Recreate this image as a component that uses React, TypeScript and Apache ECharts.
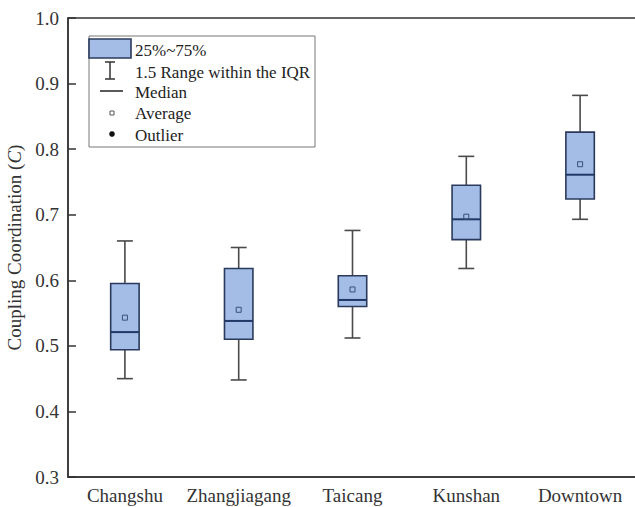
import React, { useEffect, useRef } from "react";
import * as echarts from "echarts";

const categories = ["Changshu", "Zhangjiagang", "Taicang", "Kunshan", "Downtown"];
const lowWhisker = [0.45, 0.448, 0.512, 0.618, 0.693];
const q1 = [0.494, 0.51, 0.56, 0.662, 0.724];
const median = [0.521, 0.538, 0.57, 0.693, 0.761];
const q3 = [0.595, 0.618, 0.607, 0.745, 0.826];
const highWhisker = [0.66, 0.65, 0.676, 0.789, 0.882];
const mean = [0.543, 0.555, 0.586, 0.697, 0.777];

const legendLabels = ["25%~75%", "1.5 Range within the IQR", "Median", "Average", "Outlier"];

const FONT = "Liberation Serif";
const BOX_FILL = "#a3bde6";
const BOX_STROKE = "#2b3a5c";
const MEDIAN_COLOR = "#1f3866";
const WHISKER = "#4a4a4a";

export default function App() {
  const ref = useRef<HTMLDivElement>(null);
  useEffect(() => {
    if (!ref.current) return;
    const chart = echarts.init(ref.current, null, { renderer: "svg" });
    const data = categories.map((_, i) => [i, lowWhisker[i], q1[i], median[i], q3[i], highWhisker[i], mean[i]]);

    const renderItem = (params: any, api: any) => {
      const idx = api.value(0);
      const band = api.size([1, 0])[0];
      const boxW = band * 0.25;
      const capW = band * 0.14;
      const pLow = api.coord([idx, api.value(1)]);
      const pQ1 = api.coord([idx, api.value(2)]);
      const pMed = api.coord([idx, api.value(3)]);
      const pQ3 = api.coord([idx, api.value(4)]);
      const pHigh = api.coord([idx, api.value(5)]);
      const pMean = api.coord([idx, api.value(6)]);
      const cx = pQ1[0];
      const lineStyle = { stroke: WHISKER, lineWidth: 1.6 };
      return {
        type: "group",
        children: [
          { type: "line", shape: { x1: cx, y1: pHigh[1], x2: cx, y2: pQ3[1] }, style: lineStyle },
          { type: "line", shape: { x1: cx, y1: pQ1[1], x2: cx, y2: pLow[1] }, style: lineStyle },
          { type: "line", shape: { x1: cx - capW / 2, y1: pHigh[1], x2: cx + capW / 2, y2: pHigh[1] }, style: lineStyle },
          { type: "line", shape: { x1: cx - capW / 2, y1: pLow[1], x2: cx + capW / 2, y2: pLow[1] }, style: lineStyle },
          {
            type: "rect",
            shape: { x: cx - boxW / 2, y: pQ3[1], width: boxW, height: pQ1[1] - pQ3[1] },
            style: { fill: BOX_FILL, stroke: BOX_STROKE, lineWidth: 1.6 },
          },
          {
            type: "line",
            shape: { x1: cx - boxW / 2, y1: pMed[1], x2: cx + boxW / 2, y2: pMed[1] },
            style: { stroke: MEDIAN_COLOR, lineWidth: 2 },
          },
          {
            type: "rect",
            shape: { x: cx - 2.5, y: pMean[1] - 2.5, width: 5, height: 5 },
            style: { fill: "none", stroke: "#3a4f7a", lineWidth: 1 },
          },
        ],
      };
    };

    const lx = 89;
    const rowY = [50, 72, 92, 113, 135];
    const legendGraphics: any[] = [
      { type: "rect", shape: { x: 89, y: 36, width: 226, height: 111 }, style: { fill: "#fff", stroke: "#777", lineWidth: 1 }, z: 10 },
      { type: "rect", shape: { x: lx, y: 39, width: 42, height: 19 }, style: { fill: BOX_FILL, stroke: BOX_STROKE, lineWidth: 1.6 }, z: 11 },
      { type: "line", shape: { x1: 110, y1: 62, x2: 110, y2: 79 }, style: { stroke: "#333", lineWidth: 1.5 }, z: 11 },
      { type: "line", shape: { x1: 105, y1: 62, x2: 115, y2: 62 }, style: { stroke: "#333", lineWidth: 1.5 }, z: 11 },
      { type: "line", shape: { x1: 105, y1: 79, x2: 115, y2: 79 }, style: { stroke: "#333", lineWidth: 1.5 }, z: 11 },
      { type: "line", shape: { x1: 100, y1: 91, x2: 123, y2: 91 }, style: { stroke: "#222", lineWidth: 1.5 }, z: 11 },
      { type: "rect", shape: { x: 110, y: 111, width: 4, height: 4 }, style: { fill: "none", stroke: "#555", lineWidth: 1 }, z: 11 },
      { type: "circle", shape: { cx: 112, cy: 134, r: 2.8 }, style: { fill: "#111" }, z: 11 },
      ...legendLabels.map((t, i) => ({
        type: "text",
        x: 135,
        y: rowY[i],
        z: 11,
        style: { text: t, fontSize: 17, fontFamily: FONT, fill: "#222", verticalAlign: "middle", align: "left" },
      })),
    ];

    chart.setOption({
      animation: false,
      backgroundColor: "#fff",
      textStyle: { fontFamily: FONT },
      grid: {
        left: 68,
        right: -2,
        top: 18,
        bottom: 30,
        outerBoundsMode: "none",
        containLabel: false,
        show: true,
        borderColor: "#333",
        borderWidth: 1.5,
        backgroundColor: "transparent",
      },
      xAxis: {
        type: "category",
        data: categories,
        boundaryGap: true,
        axisLine: { lineStyle: { color: "#333", width: 1.5 } },
        axisTick: { inside: true, alignWithLabel: true, length: 6, lineStyle: { color: "#333", width: 1.5 } },
        axisLabel: { interval: 0, color: "#333", fontSize: 19, fontFamily: FONT, margin: 9 },
        splitLine: { show: false },
      },
      yAxis: {
        type: "value",
        min: 0.3,
        max: 1.0,
        interval: 0.1,
        name: "Coupling Coordination ({i|C})",
        nameLocation: "middle",
        nameRotate: 90,
        nameGap: 42,
        nameTextStyle: {
          color: "#333",
          fontSize: 19,
          fontFamily: FONT,
          rich: { i: { fontStyle: "italic", fontSize: 19, fontFamily: FONT, color: "#333" } },
        },
        axisLine: { show: true, lineStyle: { color: "#333", width: 1.5 } },
        axisTick: { show: true, inside: true, length: 8, lineStyle: { color: "#333", width: 1.5 } },
        axisLabel: { color: "#333", fontSize: 19, fontFamily: FONT, margin: 9, formatter: (v: number) => v.toFixed(1) },
        splitLine: { show: false },
      },
      series: [
        {
          type: "custom",
          renderItem,
          encode: { x: 0, y: [1, 2, 3, 4, 5, 6] },
          data,
          z: 5,
        },
      ],
      graphic: legendGraphics,
    });
    return () => chart.dispose();
  }, []);
  return <div ref={ref} style={{ position: "fixed", left: 0, top: 0, width: 635, height: 507 }} />;
}
